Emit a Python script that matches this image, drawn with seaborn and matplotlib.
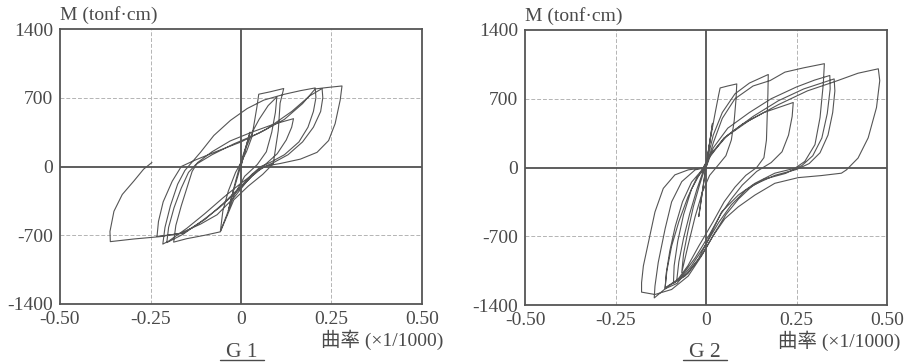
import matplotlib
matplotlib.use("Agg")
import matplotlib.pyplot as plt
import seaborn as sns
import pandas as pd
from matplotlib.lines import Line2D

# ---------------- data ----------------
g1_curv = [0, 0.01, 0.025, 0.015, 0, -0.015, -0.035, -0.025, -0.005, 0.015, 0.034,
           0.05, 0.075, 0.099, 0.095, 0.085, 0.07, 0.045, 0.01, -0.02, -0.04, -0.057,
           -0.05, -0.035, -0.015, 0, 0.015, 0.03, 0.044, 0.049, 0.08, 0.118,
           0.108, 0.103, 0.089, 0.06, 0.02, -0.02, -0.045, -0.057, -0.1, -0.15, -0.186,
           -0.18, -0.165, -0.148, -0.135, -0.12, -0.08, -0.03, 0.03, 0.09, 0.145,
           0.14, 0.125, 0.1, 0.07, 0.04, 0.0, -0.05, -0.1, -0.15, -0.2, -0.216,
           -0.21, -0.195, -0.175, -0.155, -0.14, -0.112, -0.075, -0.029, 0.017, 0.063, 0.118, 0.164, 0.205,
           0.207, 0.2, 0.185, 0.16, 0.12, 0.08, 0.055, 0.03, 0, -0.05, -0.1, -0.16, -0.232,
           -0.228, -0.215, -0.19, -0.165, -0.13, -0.07, 0, 0.07, 0.14, 0.19, 0.224,
           0.226, 0.22, 0.2, 0.17, 0.13, 0.09, 0.06, 0.03, -0.01, -0.06, -0.11, -0.16, -0.205,
           -0.2, -0.185, -0.165, -0.145, -0.125, -0.08, -0.02, 0.05, 0.12, 0.17, 0.205, 0.24, 0.279,
           0.274, 0.26, 0.242, 0.21, 0.164, 0.109, 0.072, 0.044, 0.017, -0.02, -0.066, -0.112,
           -0.167, -0.223, -0.296, -0.361,
           -0.362, -0.351, -0.328, -0.296, -0.269, -0.246]
g1_moment = [0, 150, 350, 220, 50, -150, -450, -300, -50, 200, 370,
             480, 620, 708, 550, 350, 150, 20, -100, -300, -500, -660,
             -450, -250, -60, 40, 150, 300, 607, 736, 760, 794,
             645, 367, 28, -80, -200, -340, -560, -665, -700, -735, -770,
             -600, -400, -200, -50, 40, 150, 260, 350, 430, 487,
             400, 270, 130, 30, -60, -170, -320, -480, -630, -760, -790,
             -620, -400, -180, -40, 24, 144, 316, 470, 590, 676, 734, 772, 800,
             700, 560, 400, 250, 120, 40, 0, -80, -200, -380, -540, -680, -712,
             -560, -360, -150, 0, 60, 150, 250, 380, 560, 720, 794,
             700, 560, 400, 250, 120, 40, -10, -100, -250, -420, -560, -690, -775,
             -620, -420, -220, -60, 20, 120, 230, 340, 480, 640, 790, 805, 820,
             676, 436, 264, 144, 75, 31, 7, -45, -148, -319, -491, -587,
             -679, -714, -738, -765,
             -662, -456, -285, -148, -27, 41]

g2_curv = [0, 0.008, 0.018, 0.012, 0.002, -0.008, -0.02, -0.013, -0.003, 0.01,
           0.025, 0.035, 0.039, 0.06, 0.085,
           0.083, 0.078, 0.07, 0.055, 0.035, 0.01, -0.01, -0.03, -0.05, -0.067,
           -0.062, -0.05, -0.035, -0.018, -0.005, 0.005, 0.02, 0.045, 0.08, 0.12, 0.172,
           0.171, 0.169, 0.167, 0.16, 0.14, 0.11, 0.08, 0.05, 0.02, -0.02, -0.05, -0.081,
           -0.075, -0.062, -0.045, -0.025, -0.008, 0.01, 0.05, 0.1, 0.16, 0.241,
           0.238, 0.228, 0.21, 0.18, 0.14, 0.1, 0.07, 0.04, 0.01, -0.03, -0.07, -0.113,
           -0.108, -0.095, -0.075, -0.05, -0.025, 0, 0.02, 0.045, 0.08, 0.13, 0.177, 0.218, 0.27, 0.327,
           0.324, 0.315, 0.301, 0.273, 0.246, 0.19, 0.135, 0.089, 0.043, 0.016, -0.021, -0.058, -0.104, -0.143,
           -0.141, -0.132, -0.113, -0.095, -0.067, -0.03, 0, 0.02, 0.06, 0.12, 0.18, 0.25, 0.3, 0.342,
           0.343, 0.335, 0.32, 0.295, 0.265, 0.22, 0.16, 0.11, 0.07, 0.035, 0.0, -0.04, -0.08, -0.113,
           -0.11, -0.1, -0.085, -0.065, -0.04, -0.01, 0.01, 0.06, 0.13, 0.2, 0.27, 0.354,
           0.356, 0.35, 0.337, 0.315, 0.285, 0.25, 0.19, 0.13, 0.09, 0.055, 0.025, -0.01, -0.05, -0.09,
           -0.088, -0.078, -0.062, -0.04, -0.015, 0.005, 0.05, 0.12, 0.2, 0.28, 0.36, 0.42, 0.476,
           0.48, 0.471, 0.448, 0.42, 0.388, 0.374, 0.319, 0.255, 0.19, 0.135, 0.089, 0.052, 0.02,
           -0.012, -0.049, -0.095, -0.141, -0.178,
           -0.178, -0.173, -0.159, -0.141, -0.118, -0.086, -0.049, 0]
g2_moment = [0, 200, 450, 300, 50, -200, -500, -320, -60, 250,
             550, 740, 810, 830, 851,
             700, 480, 280, 120, 30, -80, -250, -500, -800, -1070,
             -880, -650, -400, -180, -30, 100, 330, 560, 750, 860, 947,
             750, 500, 280, 100, 0, -80, -200, -350, -550, -800, -1000, -1156,
             -960, -720, -470, -220, -40, 120, 300, 440, 560, 662,
             520, 330, 160, 50, -40, -180, -320, -480, -680, -920, -1120, -1225,
             -1050, -800, -550, -300, -100, 0, 250, 500, 700, 830, 885, 971, 1015, 1057,
             851, 508, 233, 62, -7, -58, -161, -281, -453, -659, -933, -1105, -1208, -1328,
             -1208, -968, -625, -350, -144, -24, 0, 200, 400, 560, 700, 820, 890, 937,
             800, 550, 300, 120, 20, -60, -120, -230, -380, -560, -780, -1000, -1180, -1235,
             -1080, -850, -600, -350, -150, -20, 120, 330, 520, 680, 800, 902,
             780, 560, 330, 150, 40, -20, -80, -180, -320, -480, -660, -880, -1080, -1180,
             -1000, -750, -480, -220, -50, 80, 300, 480, 640, 780, 880, 960, 1005,
             885, 611, 302, 96, -24, -58, -82, -103, -161, -281, -401, -522, -693,
             -899, -1105, -1242, -1293, -1269,
             -1173, -1002, -762, -453, -213, -75, -24, 0]

x_ticks = [-0.50, -0.25, 0, 0.25, 0.50]
x_tick_labels = ["-0.50", "-0.25", "0", "0.25", "0.50"]
y_ticks = [-1400, -700, 0, 700, 1400]
y_tick_labels = ["-1400", "-700", "0", "700", "1400"]
panel_titles = ["G 1", "G 2"]
y_label = "M (tonf\u00b7cm)"
x_label = "曲率 (×1/1000)"

# ---------------- style ----------------
sns.set_theme(style="white")
plt.rcParams['font.family'] = ['Liberation Serif', 'Noto Sans CJK JP', 'DejaVu Sans']
ink = "#4a4a4a"

fig = plt.figure(figsize=(9.10, 3.62), dpi=100)
fig.patch.set_facecolor("white")

panels = [
    (g1_curv, g1_moment, [60 / 910, 1 - 304 / 362, 362 / 910, 275 / 362], 1.058, 242),
    (g2_curv, g2_moment, [525 / 910, 1 - 305 / 362, 362 / 910, 275 / 362], 1.036, 705),
]

for i, (cx, my, rect, xl_pos, title_px) in enumerate(panels):
    ax = fig.add_axes(rect)
    df = pd.DataFrame({"curv": cx, "M": my})
    for v in [-0.25, 0.25]:
        ax.axvline(v, color="#b4b4b4", lw=0.7, ls=(0, (4, 2)), zorder=1)
    for v in [-700, 700]:
        ax.axhline(v, color="#b4b4b4", lw=0.7, ls=(0, (4, 2)), zorder=1)
    ax.axvline(0, color="#505050", lw=1.3, zorder=1)
    ax.axhline(0, color="#505050", lw=1.3, zorder=1)
    sns.lineplot(data=df, x="curv", y="M", sort=False, estimator=None,
                 color="#555555", lw=0.8, ax=ax, zorder=3)
    ax.set_xlim(-0.5, 0.5)
    ax.set_ylim(-1400, 1400)
    ax.set_xticks(x_ticks)
    ax.set_xticklabels(x_tick_labels)
    ax.set_yticks(y_ticks)
    ax.set_yticklabels(y_tick_labels)
    ax.tick_params(length=0, labelsize=14, colors=ink, pad=5)
    ax.set_xlabel("")
    ax.set_ylabel("")
    for s in ax.spines.values():
        s.set_color("#555555")
        s.set_linewidth(1.3)
    ax.text(0.0, 1.051, y_label, transform=ax.transAxes, fontsize=14,
            color=ink, ha="left", va="center")
    ax.text(xl_pos, -0.131, x_label, transform=ax.transAxes, fontsize=14,
            color=ink, ha="right", va="center")
    fig.text(title_px / 910, 1 - 357 / 362, panel_titles[i], fontsize=15.5,
             color=ink, ha="center", va="baseline")
    x0 = title_px / 910
    fig.add_artist(Line2D([x0 - 22 / 910, x0 + 22 / 910], [1 - 359.5 / 362, 1 - 359.5 / 362],
                          color=ink, lw=1.0))

fig.savefig("out.png", dpi=100, facecolor="white")
